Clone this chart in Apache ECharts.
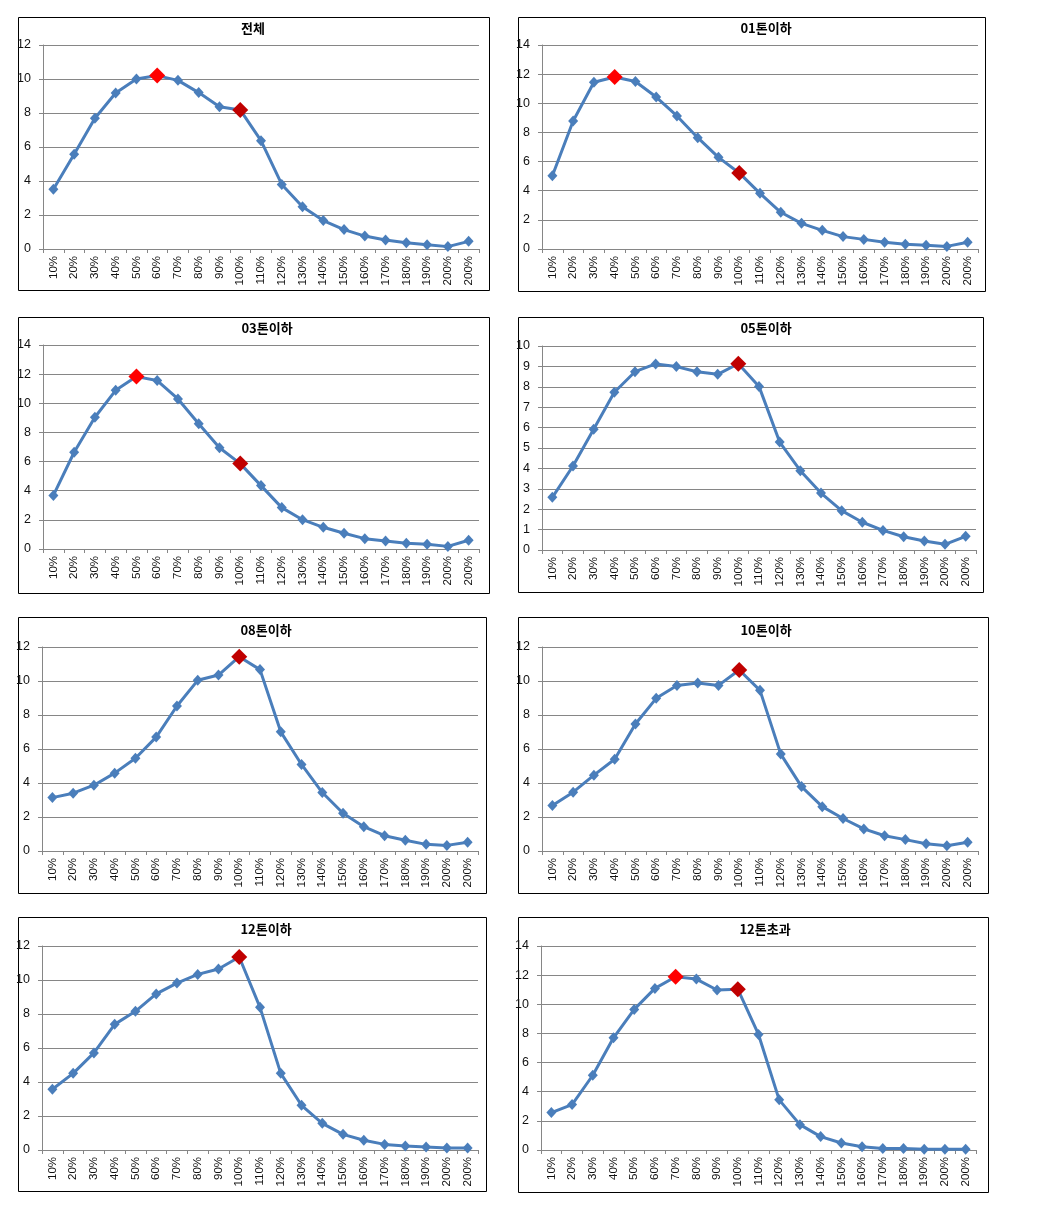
<!DOCTYPE html>
<html>
<head>
<meta charset="utf-8">
<script src="https://cdn.jsdelivr.net/npm/echarts@6/dist/echarts.min.js"></script>
<style>
html,body{margin:0;padding:0;background:#fff;}
#chart{width:1050px;height:1205px;}
</style>
</head>
<body>
<div id="chart"></div>
<script>
// ---- data ----
var categories = ['10%','20%','30%','40%','50%','60%','70%','80%','90%','100%','110%','120%','130%','140%','150%','160%','170%','180%','190%','200%','200%'];

var titles = ['전체','01톤이하','03톤이하','05톤이하','08톤이하','10톤이하','12톤이하','12톤초과'];

var total   = [3.51,5.57,7.69,9.18,10.0,10.2,9.92,9.2,8.37,8.18,6.37,3.8,2.49,1.67,1.14,0.76,0.53,0.37,0.25,0.14,0.45];
var ton01   = [5.03,8.79,11.44,11.8,11.49,10.43,9.13,7.64,6.29,5.22,3.82,2.52,1.76,1.28,0.85,0.66,0.46,0.32,0.25,0.18,0.46];
var ton03   = [3.68,6.64,9.04,10.89,11.83,11.56,10.3,8.6,6.95,5.86,4.35,2.84,2.01,1.49,1.08,0.71,0.55,0.39,0.32,0.18,0.6];
var ton05   = [2.58,4.12,5.92,7.73,8.74,9.12,8.99,8.74,8.61,9.13,8.02,5.29,3.89,2.79,1.93,1.36,0.96,0.65,0.44,0.28,0.67];
var ton08   = [3.14,3.4,3.87,4.58,5.46,6.7,8.53,10.04,10.35,11.43,10.67,7.01,5.09,3.44,2.22,1.43,0.9,0.63,0.39,0.33,0.51];
var ton10   = [2.67,3.46,4.46,5.4,7.47,8.98,9.74,9.88,9.74,10.65,9.45,5.7,3.79,2.61,1.91,1.3,0.9,0.67,0.43,0.31,0.51];
var ton12   = [3.57,4.51,5.71,7.39,8.16,9.18,9.82,10.33,10.65,11.35,8.39,4.51,2.63,1.57,0.92,0.57,0.33,0.24,0.18,0.12,0.12];
var ton12up = [2.57,3.12,5.13,7.7,9.65,11.09,11.89,11.73,10.98,11.04,7.93,3.44,1.74,0.92,0.48,0.23,0.11,0.11,0.05,0.05,0.05];

var seriesData = [total, ton01, ton03, ton05, ton08, ton10, ton12, ton12up];

// y axis ticks
var yMax      = [12,14,14,10,12,12,12,14];
var yInterval = [2,2,2,1,2,2,2,2];

// highlighted markers: peak (red) and 100% (dark red)
var peakIdx = [5,3,4,9,9,9,9,6];
var refIdx  = [9,9,9,9,9,9,9,9];

// ---- layout (pixels) ----
var grids = [
  {left:43, top:45,  width:436, height:204},
  {left:542,top:45,  width:436, height:204},
  {left:43, top:345, width:436, height:204},
  {left:542,top:346, width:434, height:204},
  {left:42, top:647, width:436, height:204},
  {left:542,top:647, width:436, height:204},
  {left:42, top:946, width:436, height:204},
  {left:541,top:946, width:435, height:204}
];
var boxes = [
  [18,17,471,273],[518,17,467,274],
  [18,317,471,276],[518,317,465,275],
  [18,617,468,276],[518,617,470,276],
  [18,917,468,274],[518,917,470,275]
];
var titlePos = [[253,22],[766,22],[267,322],[766,322],[266,624],[766,624],[266,923],[765,923]];

var BLUE = '#4A7EBB', RED = '#FF0000', DARKRED = '#C00000', GRID = '#868686';

var option = {
  animation:false,
  backgroundColor:'#ffffff',
  title:[], grid:[], xAxis:[], yAxis:[], series:[],
  graphic:[]
};

for (var i = 0; i < 8; i++) {
  option.graphic.push({
    type:'rect', silent:true, z:-1,
    shape:{x:boxes[i][0]+0.5, y:boxes[i][1]+0.5, width:boxes[i][2], height:boxes[i][3]},
    style:{fill:'#fff', stroke:'#000', lineWidth:1}
  });
  option.title.push({
    text:titles[i], left:titlePos[i][0], top:titlePos[i][1], textAlign:'center', padding:0,
    textStyle:{fontFamily:'Noto Sans CJK KR', fontSize:13, fontWeight:'bold', color:'#000'}
  });
  option.grid.push(grids[i]);
  option.xAxis.push({
    type:'category', gridIndex:i, data:categories, boundaryGap:true,
    axisLine:{show:true, lineStyle:{color:GRID, width:1}},
    axisTick:{show:true, length:4, alignWithLabel:false, interval:0, lineStyle:{color:GRID}},
    axisLabel:{interval:0, rotate:90, margin:7, fontFamily:'Liberation Sans', fontSize:11.5, color:'#111'},
    splitLine:{show:false}
  });
  option.yAxis.push({
    type:'value', gridIndex:i, min:0, max:yMax[i], interval:yInterval[i],
    axisLine:{show:true, lineStyle:{color:GRID, width:1}},
    axisTick:{show:true, length:4, lineStyle:{color:GRID}},
    axisLabel:{margin:12, fontFamily:'Liberation Sans', fontSize:12.5, color:'#111'},
    splitLine:{show:true, lineStyle:{color:GRID, width:1}}
  });
  var d = seriesData[i].map(function(v, k){
    if (k === refIdx[i]) return {value:v, symbolSize:16, itemStyle:{color:DARKRED}};
    if (k === peakIdx[i]) return {value:v, symbolSize:16, itemStyle:{color:RED}};
    return v;
  });
  option.series.push({
    type:'line', xAxisIndex:i, yAxisIndex:i, data:d,
    symbol:'diamond', symbolSize:[10,11], showAllSymbol:true,
    lineStyle:{color:BLUE, width:3},
    itemStyle:{color:BLUE},
    emphasis:{disabled:true}
  });
}

var chart = echarts.init(document.getElementById('chart'), null, {renderer:'canvas'});
chart.setOption(option);
</script>
</body>
</html>
